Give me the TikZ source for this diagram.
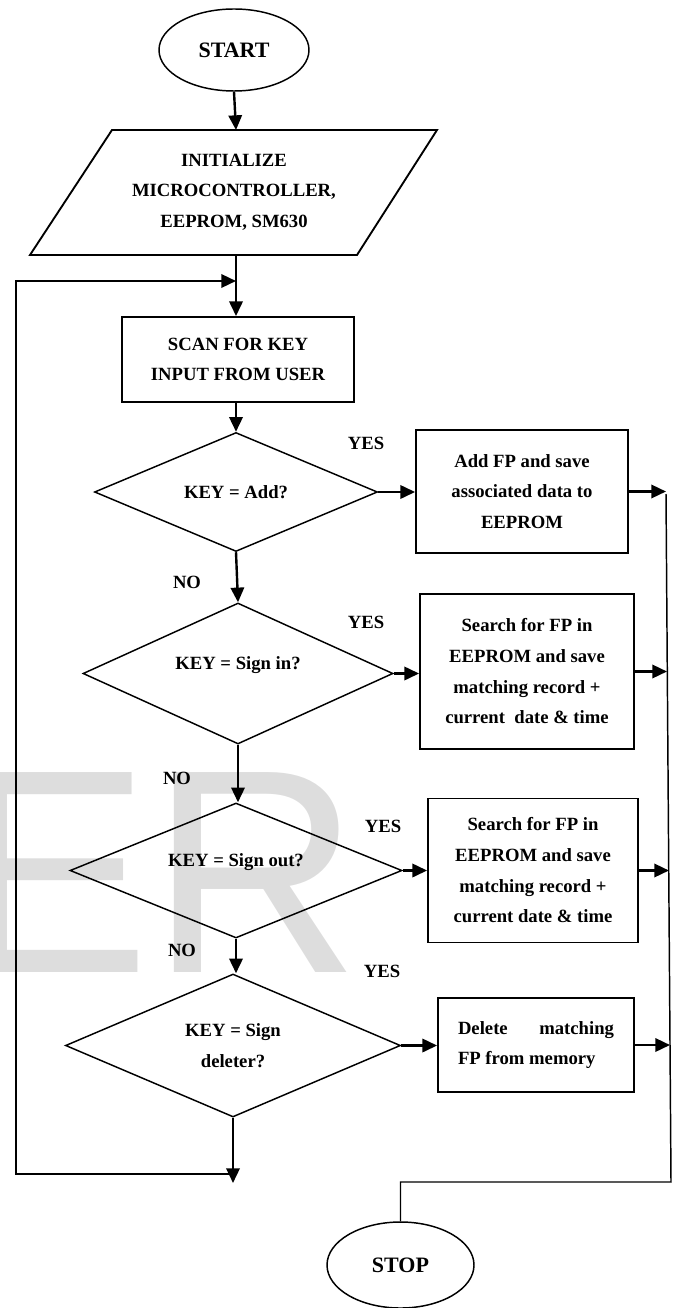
\documentclass[tikz,border=0pt]{standalone}
\usepackage{fontspec}
\setmainfont{Liberation Serif}
\newfontfamily\wmfont{Liberation Sans}
\usepackage{tikz}
\usetikzlibrary{shapes.geometric,arrows.meta,calc}
\definecolor{wmgray}{RGB}{221,221,221}
\tikzset{
  term/.style={ellipse,draw,line width=1.1pt,inner sep=0pt,font=\fontsize{16.5}{20}\selectfont\bfseries},
  procbox/.style={rectangle,draw,line width=1.4pt,align=center,inner sep=0pt},
  decision/.style={diamond,aspect=2,draw,line width=1.1pt,align=center,inner sep=0pt},
  flow/.style={-{Triangle[length=11pt,width=10pt]},line width=1.8pt},
  thinline/.style={line width=1.1pt},
  ans/.style={inner sep=0pt}
}

\begin{document}
\begin{tikzpicture}[x=0.75pt,y=-0.75pt,font=\fontsize{14}{23}\selectfont\bfseries]
\useasboundingbox (0,0) rectangle (677,1308);
% watermark
\node[anchor=base west,inner sep=0pt,text=wmgray,font=\fontsize{218}{218}\selectfont\wmfont\mdseries] (wm) at (-44,972) {ER};

% start, init
\node[term,minimum width=112.5pt,minimum height=61.5pt] (start) at (234,50) {START};
\draw[line width=1.4pt] (30,255) -- (112,130) -- (437,130) -- (357,255) -- cycle;
\node[align=center] (init) at (234,192) {INITIALIZE\\MICROCONTROLLER,\\EEPROM, SM630};
\coordinate (initN) at (236,130);
\coordinate (initS) at (236,255);

\node[procbox,minimum width=174pt,minimum height=63.75pt] (scan) at (238,359.5) {SCAN FOR KEY\\INPUT FROM USER};

% decisions
\node[decision,minimum width=212.25pt,minimum height=89.25pt] (add) at (236,492) {KEY = Add?};
\node[decision,minimum width=232.5pt,minimum height=105.75pt] (signin) at (238,673.5) {\raisebox{15pt}{KEY = Sign in?}};
\node[decision,minimum width=249pt,minimum height=101.25pt] (signout) at (236,870.5) {\raisebox{15pt}{KEY = Sign out?}};
\node[decision,minimum width=251.25pt,minimum height=107.25pt] (del) at (233,1045.5) {KEY = Sign\\deleter?};

% actions
\node[procbox,minimum width=159pt,minimum height=92.25pt] (addfp) at (522,491.5) {Add FP and save\\associated data to\\EEPROM};
\node[procbox,minimum width=160.5pt,minimum height=116.25pt] (inrec) at (527,671.5) {Search for FP in\\EEPROM and save\\matching record +\\current~ date \& time};
\node[procbox,minimum width=157.5pt,minimum height=108pt] (outrec) at (533,870.5) {Search for FP in\\EEPROM and save\\matching record +\\current date \& time};
\node[procbox,minimum width=147pt,minimum height=70.5pt] (delfp) at (536,1045) {\makebox[117pt][l]{Delete\hfill matching}\\\makebox[117pt][l]{FP from memory}};

\node[term,minimum width=110.25pt,minimum height=64.5pt] (stop) at (400.5,1265) {STOP};

% labels
\node[ans] (no1) at (187,582) {NO};
\node[ans] (no2) at (177,778) {NO};
\node[ans] (no3) at (182,950) {NO};
\node[ans] (yes1) at (366,443) {YES};
\node[ans] (yes2) at (366,622) {YES};
\node[ans] (yes3) at (383,826) {YES};
\node[ans] (yes4) at (382,971) {YES};

% helper points
\coordinate (loopT) at (16,281);
\coordinate (loopB) at (16,1174);
\coordinate (back) at (236,1183);
\coordinate (busT) at (666,494);
\coordinate (busB) at (671,1182);

% main flow
\draw[flow] (start.south) -- (initN);
\draw[flow] (initS) -- (initS |- scan.north);
\draw[flow] (scan.south -| add.north) -- (add.north);
\draw[flow] (add.south) -- (signin.south |- signin.north);
\draw[flow] (signin.south) -- (signin.south |- signout.north);
\draw[flow] (signout.south) -- (signout.south |- del.north);
\draw[flow] (del.south) -- (del.south |- back);
\draw[flow] (del.south |- loopB) -- (loopB) -- (loopT) -- (initS |- loopT);

% yes branches
\draw[flow] (add.east) -- (add.east -| addfp.west);
\draw[flow] (signin.east) -- (signin.east -| inrec.west);
\draw[flow] (signout.east) -- (signout.east -| outrec.west);
\draw[flow] (del.east) -- (del.east -| delfp.west);

\draw[flow] (addfp.east) -- (addfp.east -| busT);
\draw[flow] (inrec.east) -- ($(inrec.east -| busT)+(1,0)$);
\draw[flow] (outrec.east) -- ($(outrec.east -| busT)+(3,0)$);
\draw[flow] (delfp.east) -- ($(delfp.east -| busT)+(4,0)$);

\draw[thinline] (busT) -- (busB) -- (busB -| stop.north) -- (stop.north);
\end{tikzpicture}
\end{document}
